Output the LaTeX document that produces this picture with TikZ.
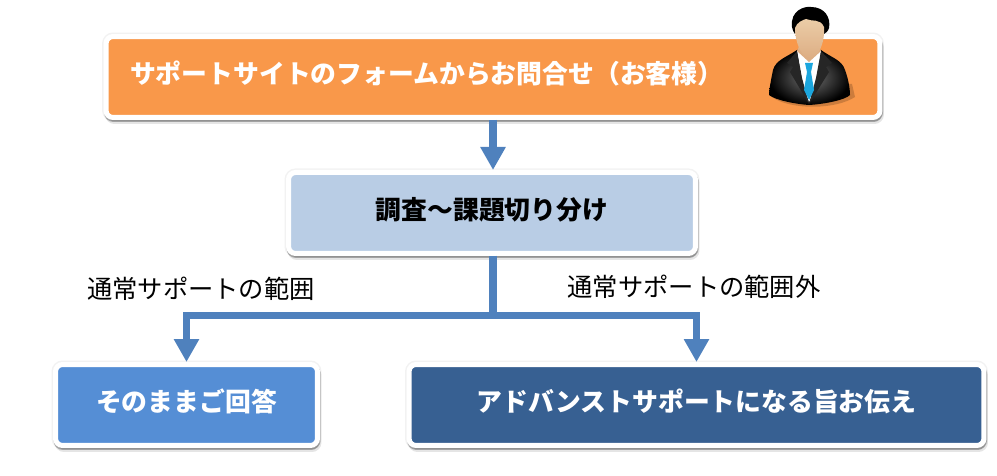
\documentclass[tikz,border=0pt]{standalone}
\usepackage{fontspec}
\setmainfont{Noto Sans CJK JP}
\usepackage{xcolor}
\usetikzlibrary{arrows.meta, positioning, shadows}
\definecolor{orangebox}{HTML}{F9984A}
\definecolor{palebox}{HTML}{B9CDE5}
\definecolor{midbox}{HTML}{558ED5}
\definecolor{darkbox}{HTML}{376092}
\definecolor{linecol}{HTML}{4F81BD}
\definecolor{tiecol}{HTML}{1BA6DE}
\definecolor{facetop}{HTML}{EBCDA8}
\definecolor{facebot}{HTML}{DDAE84}
\tikzset{
	block/.style={rectangle, draw=white, line width=0.1cm, rounded corners=0.14cm, minimum height=1.62cm, text depth=0.2cm, font=\fontsize{14.7}{16}\selectfont\bfseries, white,
		general shadow={shadow xshift=0cm, shadow yshift=0cm, draw=black, line width=0.16cm, opacity=0.05},
		general shadow={shadow xshift=0.03cm, shadow yshift=-0.08cm, fill=black, draw=black, opacity=0.1},
		general shadow={shadow xshift=0.01cm, shadow yshift=-0.04cm, fill=black, draw=black, opacity=0.25}},
	line/.style={draw=linecol, line width=0.15cm, -{Triangle[length=0.46cm, width=0.48cm]}},
	note/.style={font=\fontsize{14.4}{16}\selectfont, black}
}
\begin{document}
\begin{tikzpicture}[x=0.02cm, y=-0.02cm, node distance=1cm]
	\useasboundingbox (0,0) rectangle (997,476);

	% Boxes from top to bottom
	\node[block, fill=orangebox, text width=14.52cm, inner xsep=0.48cm, align=left] (inquiry) at (493,77) {サポートサイトのフォームからお問合せ（お客様）};
	\node[block, fill=palebox, text=black, minimum width=8.14cm, xshift=-0.02cm] (survey) [below=of inquiry] {調査～課題切り分け};
	\node[block, fill=midbox, minimum width=5.24cm] (answer) at (186.5,405) {そのままご回答};
	\node[block, fill=darkbox, minimum width=11.5cm] (advanced) at (696.5,405) {アドバンストサポートになる旨お伝え};

	% Labels of the two branches
	\node[note] (inside) at (201,289) {通常サポートの範囲};
	\node[note] (outside) at (694,287) {通常サポートの範囲外};

	% Connecting lines
	\coordinate (branch) at (493,315.5);
	\path[line] (inquiry.south) -- (inquiry.south |- survey.north);
	\path[line] (branch |- survey.south) -- (branch) -| (answer.north);
	\path[line] (branch |- survey.south) -- (branch) -| (advanced.north);

	% Person on the top box
	\fill[black, opacity=0.18] (772,97) .. controls (790,110) and (835,110) .. (855,97) -- (852,84) -- (772,84) -- cycle;
	\shade[inner color=black!55, outer color=black] (797,50) .. controls (785,58) and (776,60) .. (773,70) .. controls (771,80) and (769,90) .. (769,95) .. controls (775,100) and (795,104) .. (809,105) .. controls (825,104) and (845,100) .. (850,95) .. controls (850,88) and (848,78) .. (845,70) .. controls (842,60) and (832,58) .. (821,50) -- cycle;
	\fill[white] (797,51) -- (821,51) -- (816,88) -- (809,102) -- (803,86) -- cycle;
	\fill[black!85] (797,51) -- (787,63) -- (793,67) -- (790,72) -- (809,104) -- (802,78) -- cycle;
	\fill[black!85] (821,51) -- (832,63) -- (826,67) -- (829,72) -- (809,104) -- (816,78) -- cycle;
	\fill[tiecol] (805,63) -- (813,63) -- (811,72) -- (814,90) -- (809,100) -- (804,90) -- (807,72) -- cycle;
	\fill[facebot] (800,44) -- (818,44) -- (821,51) -- (809,62) -- (797,51) -- cycle;
	\fill[black] (792,27) .. controls (790,10) and (805,6) .. (811,7) .. controls (825,7) and (831,18) .. (829,28) .. controls (828,32) and (825,33) .. (824,34) -- (795,34) .. controls (794,32) and (792,30) .. (792,27) -- cycle;
	\shade[top color=facetop, bottom color=facebot] (795,28) .. controls (797,22) and (803,20) .. (806,19) .. controls (812,22) and (820,18) .. (824,27) .. controls (825,40) and (820,57) .. (810,58) .. controls (800,57) and (795,40) .. (795,28) -- cycle;
\end{tikzpicture}
\end{document}
